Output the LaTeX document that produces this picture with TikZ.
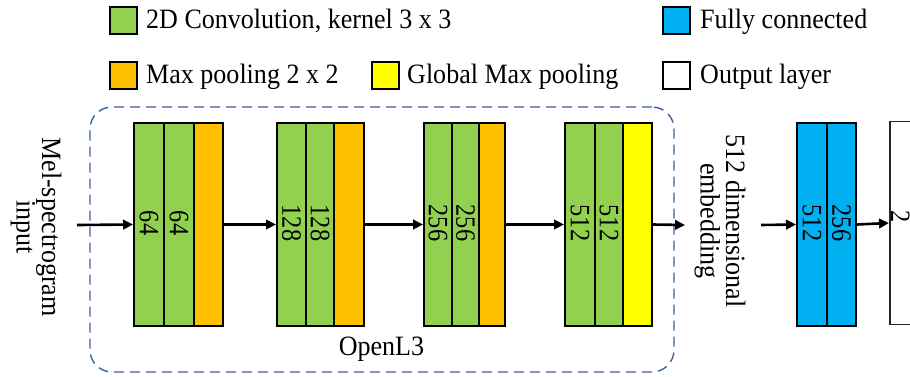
\documentclass[tikz,border=0pt]{standalone}
\usepackage{fontspec}
\setmainfont{Liberation Serif}[FakeStretch=0.93]
\newfontfamily\numfont{Liberation Serif}[FakeStretch=0.87]
\usetikzlibrary{arrows.meta}

\definecolor{convgreen}{HTML}{92D050}
\definecolor{poolorange}{HTML}{FFC000}
\definecolor{gpoolyellow}{HTML}{FFFF00}
\definecolor{fcblue}{HTML}{00B0F0}
\definecolor{frameblue}{HTML}{3B619E}

\tikzset{
  layerbox/.style={draw=black, line width=2pt, inner sep=0pt, minimum height=203pt},
  conv/.style={layerbox, fill=convgreen},
  pool/.style={layerbox, fill=poolorange},
  gpool/.style={layerbox, fill=gpoolyellow},
  fc/.style={layerbox, fill=fcblue},
  outl/.style={draw=black!85, line width=1.5pt, fill=white, inner sep=0pt, minimum height=203pt},
  num/.style={rotate=-90, inner sep=0pt, font=\numfont\fontsize{28}{28}\selectfont},
  vlabel/.style={rotate=-90, align=center, inner sep=0pt, font=\fontsize{28}{25.5}\selectfont},
  txt/.style={inner sep=0pt, font=\fontsize{28}{30}\selectfont},
  legbox/.style={draw=black, line width=2pt, minimum width=27pt, minimum height=27pt, inner sep=0pt},
  arr/.style={line width=2.6pt, -{Triangle[length=10pt,width=9.5pt]}},
  frame/.style={draw=frameblue, line width=1.4pt, dash pattern=on 10pt off 6pt, rounded corners=22pt}
}

% one layer strip spanning #2..#3 horizontally, with an optional rotated size label
\newcommand{\netlayer}[5]{%
  \node[#4, minimum width={#3-#2}, anchor=west] (#1) at (#2,224.5) {};
  \node[num, xshift=-1.5pt] (#1-t) at (#1.center) {#5};
}

\begin{document}
\begin{tikzpicture}[x=1pt,y=-1pt]
\useasboundingbox (0,0) rectangle (910,376);
\clip (0,0) rectangle (910,376);

% legend
\node[legbox, fill=convgreen] (lg-conv) at (123.5,20.5) {};
\node[txt, anchor=base west] (lt-conv) at (146,28) {2D Convolution, kernel 3 x 3};
\node[legbox, fill=fcblue] (lg-fc) at (676.5,20.5) {};
\node[txt, anchor=base west] (lt-fc) at (700,28) {Fully connected};
\node[legbox, fill=poolorange] (lg-pool) at (123.5,75.5) {};
\node[txt, anchor=base west] (lt-pool) at (146,83.5) {Max pooling 2 x 2};
\node[legbox, fill=gpoolyellow] (lg-gpool) at (385,75.5) {};
\node[txt, anchor=base west] (lt-gpool) at (407,83.5) {Global Max pooling};
\node[legbox, fill=white] (lg-out) at (676.5,75.5) {};
\node[txt, anchor=base west] (lt-out) at (700,83.5) {Output layer};

% OpenL3 frame
\node[frame, minimum width=584pt, minimum height=265pt, inner sep=0pt] (openl3) at (382,239.5) {};
\node[txt, anchor=base] (openl3-t) at (381.5,355) {OpenL3};

% input label
\node[vlabel] (mel) at (36,227) {Mel-spectrogram\\input};
\coordinate (inp) at (77,225);

% block 1
\netlayer{c11}{133}{163}{conv}{64}
\netlayer{c12}{163}{193}{conv}{64}
\netlayer{p1}{193}{222}{pool}{}
% block 2
\netlayer{c21}{276}{305}{conv}{128}
\netlayer{c22}{305}{333}{conv}{128}
\netlayer{p2}{333}{363}{pool}{}
% block 3
\netlayer{c31}{423}{451}{conv}{256}
\netlayer{c32}{451}{478}{conv}{256}
\netlayer{p3}{478}{504}{pool}{}
% block 4
\netlayer{c41}{564}{594}{conv}{512}
\netlayer{c42}{594}{622}{conv}{512}
\netlayer{gp}{622}{651}{gpool}{}

% embedding
\coordinate (emb-in) at (685,225);
\node[vlabel] (emb) at (720,221) {512 dimensional\\embedding};
\coordinate (emb-out) at (761,225);

% classifier head
\netlayer{f1}{796}{826}{fc}{512}
\netlayer{f2}{826}{855}{fc}{256}
\node[outl, minimum width=32pt, anchor=west] (out) at (889,223) {};
\node[num, anchor=south] (out-t) at (891,217) {2};

% connectors
\draw[arr] (inp) -- (c11.west);
\draw[arr] (p1.east) -- (c21.west);
\draw[arr] (p2.east) -- (c31.west);
\draw[arr] (p3.east) -- (c41.west);
\draw[arr] (gp.east) -- (emb-in);
\draw[arr] (emb-out) -- (f1.west);
\draw[arr] (f2.east) -- (out.west);
\end{tikzpicture}
\end{document}
